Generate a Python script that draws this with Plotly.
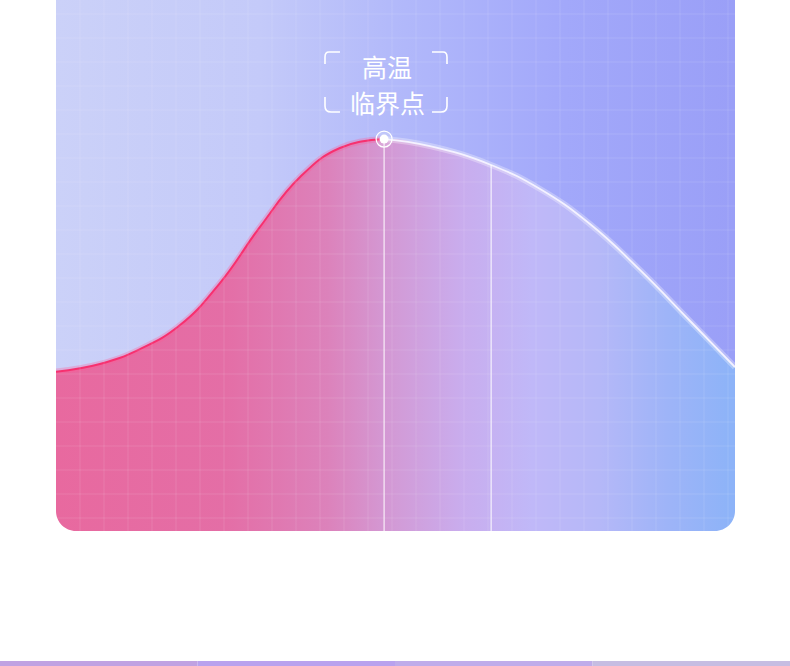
import plotly.graph_objects as go

# curve (x: grid cells from left edge, y: grid cells from bottom)
curve_x = [0, 1.83, 3.5, 5.17, 6.83, 8.5, 10.17, 11.83, 13.67,
           15.58, 18.13, 20.17, 22.25, 24.33, 26.42, 28.29]
curve_y = [6.64, 6.96, 7.58, 8.58, 10.33, 12.67, 14.75, 15.96, 16.33,
           16.04, 15.25, 14.25, 12.79, 10.88, 8.75, 6.83]
peak_idx = 8
mark_idx = 10
label_lines = ["高温", "临界点"]

W_PX, H_PX = 790, 666
L, R, B = 56, 55, 135
CELL = 24
PW, PH = W_PX - L - R, H_PX - B
XMAX, YMAX = PW / CELL, PH / CELL
SM = 1.3


def pp(x, y):
    """pixel -> paper coords string"""
    return "%.5f,%.5f" % ((x - L) / PW, (PH - y) / PH)


fig = go.Figure()

# panel background
fig.add_trace(go.Scatter(
    x=[0, XMAX, XMAX, 0, 0], y=[0, 0, YMAX + 1, YMAX + 1, 0],
    mode="lines", line=dict(width=0), fill="toself",
    fillgradient=dict(type="horizontal", start=0, stop=XMAX, colorscale=[
        [0, "#cbd1f8"], [0.3, "#c4caf9"], [0.5, "#b2b9fa"],
        [0.75, "#a2a8fa"], [1, "#9a9ff7"]]),
    hoverinfo="skip", showlegend=False))

# area under the curve
fig.add_trace(go.Scatter(
    x=curve_x, y=curve_y, mode="lines", line=dict(width=0, shape="spline", smoothing=SM),
    fill="tozeroy",
    fillgradient=dict(type="horizontal", start=0, stop=XMAX, colorscale=[
        [0, "#e8699f"], [0.25, "#e46ea6"], [0.4, "#dc82bb"], [0.48, "#d497d2"],
        [0.6, "#c9adee"], [0.7, "#c0b8f8"], [0.8, "#b5b8f8"], [0.9, "#9eb4f8"],
        [1, "#8cb3f8"]]),
    hoverinfo="skip", showlegend=False))

left_x, left_y = curve_x[:peak_idx + 1], curve_y[:peak_idx + 1]
right_x, right_y = curve_x[peak_idx:], curve_y[peak_idx:]

# glow + line, left (red) and right (white)
fig.add_trace(go.Scatter(x=left_x, y=left_y, mode="lines",
                         line=dict(color="rgba(255,90,150,0.3)", width=6, shape="spline", smoothing=SM),
                         hoverinfo="skip", showlegend=False))
fig.add_trace(go.Scatter(x=left_x, y=left_y, mode="lines",
                         line=dict(color="#f7306f", width=2, shape="spline", smoothing=SM),
                         hoverinfo="skip", showlegend=False))
fig.add_trace(go.Scatter(x=right_x, y=right_y, mode="lines",
                         line=dict(color="rgba(255,255,255,0.3)", width=6, shape="spline", smoothing=SM),
                         hoverinfo="skip", showlegend=False))
fig.add_trace(go.Scatter(x=right_x, y=right_y, mode="lines",
                         line=dict(color="#f4f2ff", width=1.8, shape="spline", smoothing=SM),
                         hoverinfo="skip", showlegend=False))

# drop lines
for i in (peak_idx, mark_idx):
    fig.add_trace(go.Scatter(x=[curve_x[i], curve_x[i]], y=[0, curve_y[i]], mode="lines",
                             line=dict(color="white", width=1),
                             hoverinfo="skip", showlegend=False))

# peak marker
fig.add_trace(go.Scatter(x=[curve_x[peak_idx]], y=[curve_y[peak_idx]], mode="markers",
                         marker=dict(size=16, color="rgba(255,255,255,0.15)",
                                     line=dict(color="white", width=1.2)),
                         hoverinfo="skip", showlegend=False))
fig.add_trace(go.Scatter(x=[curve_x[peak_idx]], y=[curve_y[peak_idx]], mode="markers",
                         marker=dict(size=9, color="white", line=dict(width=0)),
                         hoverinfo="skip", showlegend=False))

shapes = []
# faint grid on top of the fills
for gx in range(1, int(XMAX) + 1):
    shapes.append(dict(type="line", xref="x", yref="paper", x0=gx, x1=gx, y0=0, y1=1,
                       line=dict(color="rgba(255,255,255,0.12)", width=1), layer="above"))
gy = (PH - 398) / CELL % 1
while gy < YMAX:
    shapes.append(dict(type="line", xref="paper", yref="y", x0=0, x1=1, y0=gy, y1=gy,
                       line=dict(color="rgba(255,255,255,0.12)", width=1), layer="above"))
    gy += 1

# rounded bottom corners (white masks)
r, k = 20, 0.5523
x0, x1, yb = L, L + PW, PH
corner_l = "M %s L %s L %s L %s C %s %s %s Z" % (
    pp(x0 - 2, yb - r), pp(x0 - 2, yb + 2), pp(x0 + r, yb + 2), pp(x0 + r, yb),
    pp(x0 + r - r * k, yb), pp(x0, yb - r + r * k), pp(x0, yb - r))
corner_r = "M %s L %s L %s L %s C %s %s %s Z" % (
    pp(x1 + 2, yb - r), pp(x1 + 2, yb + 2), pp(x1 - r, yb + 2), pp(x1 - r, yb),
    pp(x1 - r + r * k, yb), pp(x1, yb - r + r * k), pp(x1, yb - r))
for path in (corner_l, corner_r):
    shapes.append(dict(type="path", xref="paper", yref="paper", path=path,
                       fillcolor="white", line=dict(width=0), layer="above"))

# label brackets
br = dict(color="white", width=1.6)
brackets = [
    "M %s L %s Q %s %s L %s" % (pp(340, 52), pp(329, 52), pp(325, 52), pp(325, 57), pp(325, 64)),
    "M %s L %s Q %s %s L %s" % (pp(325, 97), pp(325, 106), pp(325, 112), pp(331, 112), pp(340, 112)),
    "M %s L %s Q %s %s L %s" % (pp(432, 52), pp(443, 52), pp(447, 52), pp(447, 57), pp(447, 64)),
    "M %s L %s Q %s %s L %s" % (pp(447, 97), pp(447, 106), pp(447, 112), pp(441, 112), pp(432, 112)),
]
for path in brackets:
    shapes.append(dict(type="path", xref="paper", yref="paper", path=path,
                       line=br, layer="above"))

# bottom strip
strip_cols = ["#c0a2e2", "#b9a2ee", "#bfacea", "#c6bde2"]
for j, c in enumerate(strip_cols):
    shapes.append(dict(type="rect", xref="paper", yref="paper",
                       x0=(-L + j * W_PX / 4) / PW, x1=(-L + (j + 1) * W_PX / 4) / PW,
                       y0=(PH - 667) / PH, y1=(PH - 661) / PH,
                       fillcolor=c, line=dict(width=0), layer="above"))

annotations = [
    dict(xref="paper", yref="paper", x=(387 - L) / PW, y=(PH - 66) / PH,
         xanchor="center", yanchor="middle",
         text=label_lines[0], showarrow=False,
         font=dict(family="Noto Sans CJK SC", size=25, color="white")),
    dict(xref="paper", yref="paper", x=(387 - L) / PW, y=(PH - 102) / PH,
         xanchor="center", yanchor="middle",
         text=label_lines[1], showarrow=False,
         font=dict(family="Noto Sans CJK SC", size=25, color="white")),
]

fig.update_layout(
    width=W_PX, height=H_PX,
    margin=dict(l=L, r=R, t=0, b=B, pad=0),
    paper_bgcolor="white", plot_bgcolor="white",
    xaxis=dict(range=[0, XMAX], visible=False, fixedrange=True),
    yaxis=dict(range=[0, YMAX], visible=False, fixedrange=True),
    shapes=shapes, annotations=annotations,
    showlegend=False,
)

fig.write_html("out.html", config={"displayModeBar": False},
               post_script="document.body.style.margin='0';document.body.style.overflow='hidden';")
